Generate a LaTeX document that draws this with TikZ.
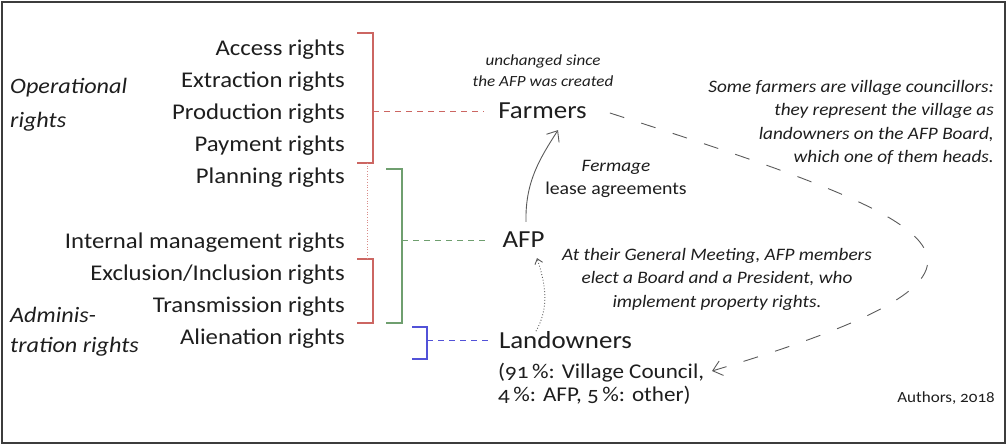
\documentclass[tikz,border=0pt]{standalone}
\usepackage{fontspec}
\setmainfont{Carlito}[FakeStretch=1.1,Numbers=OldStyle]
\usepackage{xcolor}
\usepackage{tikz}
\usetikzlibrary{arrows.meta}

\definecolor{ink}{HTML}{1E1E1E}
\definecolor{framegray}{HTML}{3C3C3C}
\definecolor{curvegray}{HTML}{5A5A5A}
\definecolor{oprred}{HTML}{CC6662}
\definecolor{admgreen}{HTML}{6F9F6F}
\definecolor{alienblue}{HTML}{5252D8}

\tikzset{
  rightslabel/.style={anchor=east, inner sep=0pt, text=ink, font=\fontsize{22.5}{27}\selectfont},
  grouplabel/.style={anchor=west, inner sep=0pt, align=left, text=ink},
  holder/.style={inner sep=0pt, text=ink, font=\fontsize{24.5}{29}\selectfont},
  note/.style={inner sep=0pt, text=ink, font=\fontsize{17.5}{23.5}\selectfont\itshape},
  bracket/.style={line width=1.1pt},
  link/.style={dash pattern=on 6pt off 5pt, line width=0.9pt},
  barb/.style={-{Straight Barb[length=9pt,width=15pt]}}
}

\begin{document}
\begin{tikzpicture}[x=1pt, y=-1pt]
\useasboundingbox (0,0) rectangle (1008,446);
\draw[framegray, line width=1.5pt] (2,2) rectangle (1005,443);

% kinds of rights
\foreach \nm/\yy/\txt in {access/50/Access, extraction/82/Extraction, production/114/Production, payment/146/Payment, planning/178/Planning, internal/243/Internal management, exclusion/275/{Exclusion/Inclusion}, transmission/307/Transmission, alienation/339/Alienation}
  \node[rightslabel] (\nm) at (345,\yy) {\txt\ rights};

\node[grouplabel, font=\fontsize{22}{34}\selectfont\itshape] (operational) at (10,105) {Operational\\rights};
\node[grouplabel, font=\fontsize{22}{30}\selectfont\itshape] (administration) at (10,332) {Adminis-\\tration rights};

% brackets
\draw[bracket, oprred] (357,33) -- (373,33) -- (373,163) -- (357,163);
\draw[bracket, oprred] (357,259) -- (373,259) -- (373,323) -- (357,323);
\draw[oprred!75, line width=0.7pt, dotted] (367,163) -- (367,259);
\draw[bracket, admgreen] (386,169) -- (402,169) -- (402,323) -- (386,323);
\draw[bracket, alienblue] (412,327) -- (427,327) -- (427,359) -- (412,359);
\coordinate (opbracket) at (373,111);
\coordinate (admbracket) at (402,240);
\coordinate (alienbracket) at (427,340);

% right holders
\node[holder] (farmers) at (542.5,111) {Farmers};
\node[holder] (afp) at (523.5,240) {AFP};
\node[holder] (landowners) at (565.5,340) {Landowners};
\node[inner sep=0pt, anchor=west, align=left, text=ink, font=\fontsize{21}{23}\selectfont] (shares) at (498,383.5) {(91\,\%: Village Council,\\4\,\%: AFP, 5\,\%: other)};

\draw[link, oprred] (opbracket) -- (farmers.west) [shorten >=15pt];
\draw[link, admgreen] (admbracket) -- (afp.west) [shorten >=16pt];
\draw[link, alienblue] (alienbracket) -- (landowners.west) [shorten >=11pt];

% notes
\node[note, align=center, font=\fontsize{15.5}{21}\selectfont\itshape] (unchanged) at (543,70.5) {unchanged since\\the AFP was created};
\node[inner sep=0pt, align=center, text=ink, font=\fontsize{18}{23}\selectfont] (fermage) at (616,178.5) {\fontsize{17.5}{23}\selectfont\itshape Fermage\\lease agreements};
\node[note, anchor=east, align=right] (councillors) at (994,122.5) {Some farmers are village councillors:\\they represent the village as\\landowners on the AFP Board,\\which one of them heads.};
\node[note, align=center] (meeting) at (717,279) {At their General Meeting, AFP members\\elect a Board and a President, who\\implement property rights.};
\node[inner sep=0pt, anchor=east, text=ink, font=\fontsize{15.5}{19}\selectfont] (authors) at (995,398) {Authors, 2018};

% relations
\draw[barb, curvegray, line width=0.9pt] ([xshift=2.5pt,yshift=10pt]afp.north) .. controls +(-1,-40) and +(-18,28) .. ([xshift=15.5pt,yshift=-11pt]farmers.south);
\draw[curvegray, line width=0.9pt, dotted, -{Straight Barb[length=5pt,width=8pt]}] ([xshift=-29.5pt]landowners.north) .. controls +(14,-25) and +(8,25) .. ([xshift=13.5pt,yshift=-10pt]afp.south);
\coordinate (councilend) at (712,371);
\draw[barb, curvegray, line width=0.9pt, dash pattern=on 15pt off 18pt] ([xshift=23pt,yshift=-2pt]farmers.east) .. controls +(348,112) and +(348,-104) .. (councilend);
\end{tikzpicture}
\end{document}
